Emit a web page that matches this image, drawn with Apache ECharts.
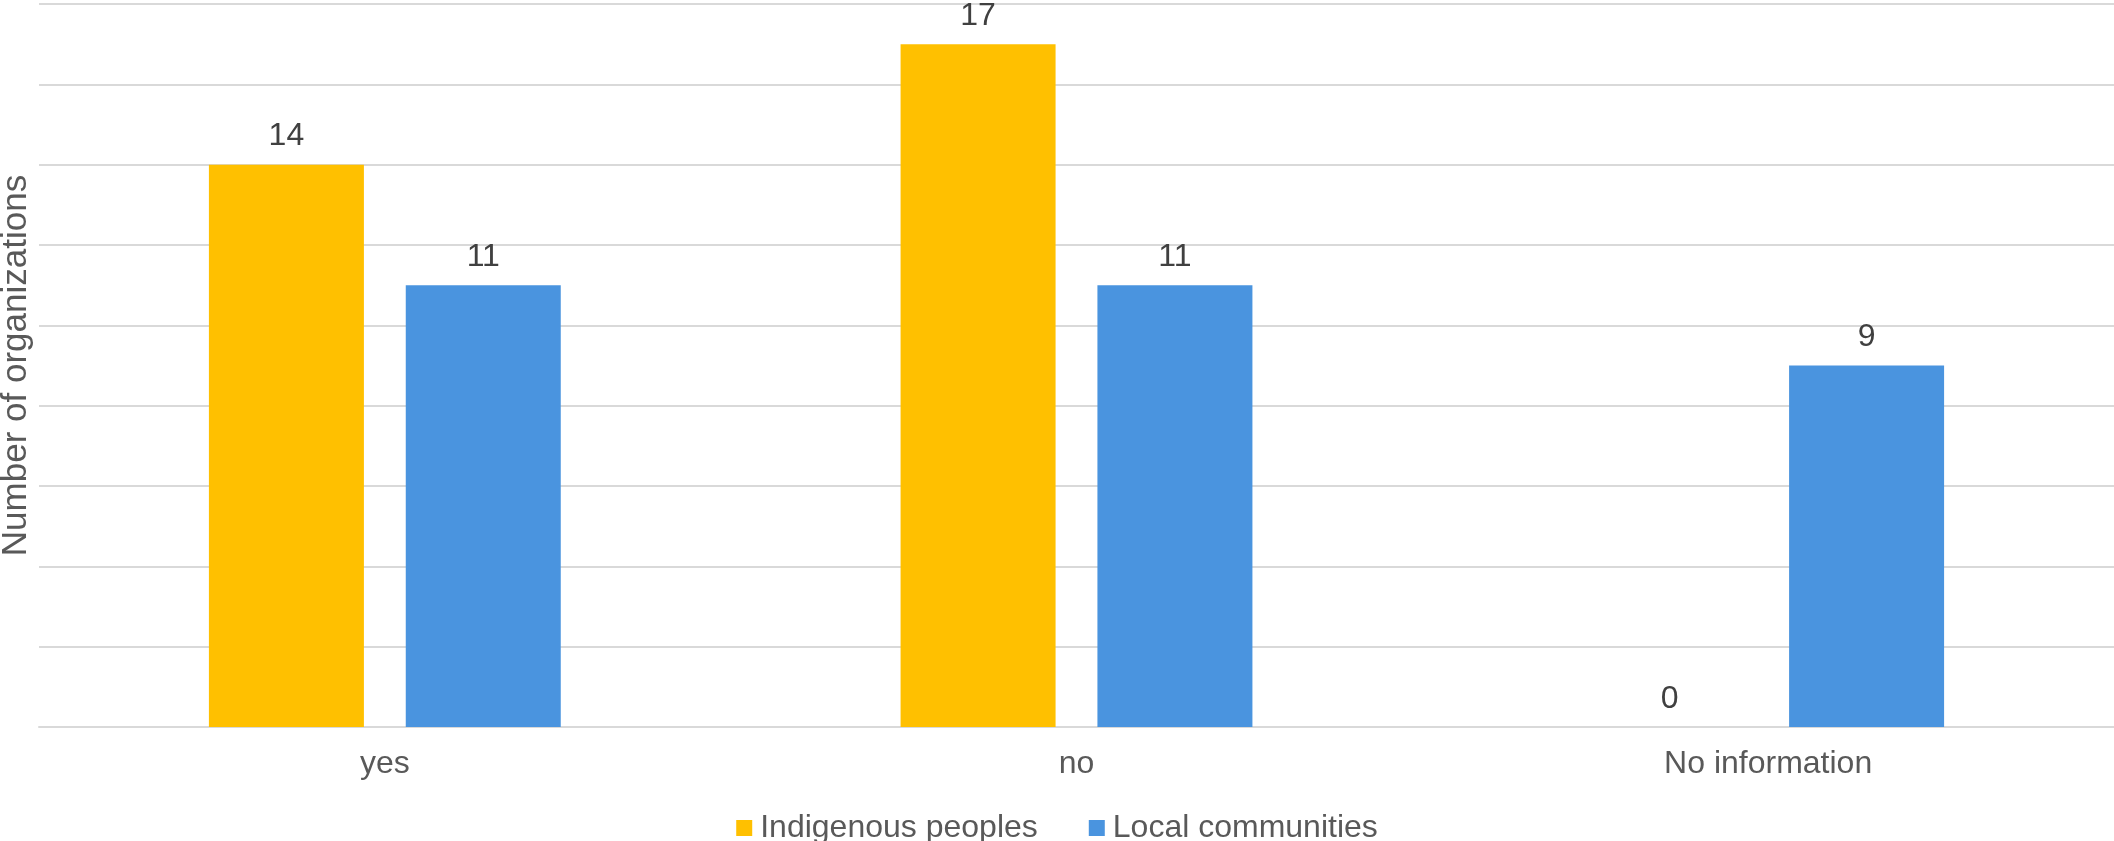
<!DOCTYPE html>
<html>
<head>
<meta charset="utf-8">
<script src="https://cdn.jsdelivr.net/npm/echarts@6/dist/echarts.min.js"></script>
<style>
html,body{margin:0;padding:0;background:#fff;}
#chart{width:2114px;height:841px;}
</style>
</head>
<body>
<div id="chart"></div>
<script>
const categories = ['yes', 'no', 'No information'];
const indigenousPeoples = [14, 17, 0];
const localCommunities = [11, 11, 9];
const seriesNames = ['Indigenous peoples', 'Local communities'];
const yAxisTitle = 'Number of organizations';

const FONT = '"Liberation Sans", Arial, sans-serif';
const chart = echarts.init(document.getElementById('chart'), null, {renderer: 'canvas'});
const labelCfg = {
  show: true, position: 'top', distance: 12,
  color: '#404040', fontSize: 32, fontFamily: FONT
};
chart.setOption({
  animation: false,
  backgroundColor: '#ffffff',
  grid: {left: 39, right: 0, top: 4, bottom: 114, containLabel: false, outerBoundsMode: 'none'},
  legend: {
    data: seriesNames,
    top: 807, left: 'center',
    icon: 'rect', itemWidth: 16, itemHeight: 16, itemGap: 51,
    textStyle: {color: '#595959', fontSize: 32, fontFamily: FONT, padding: [0, 0, 0, 3]}
  },
  xAxis: {
    type: 'category',
    data: categories,
    axisLine: {show: true, lineStyle: {color: '#D9D9D9', width: 2}},
    axisTick: {show: false},
    axisLabel: {color: '#595959', fontSize: 32, fontFamily: FONT, margin: 21}
  },
  yAxis: {
    type: 'value',
    min: 0, max: 18, interval: 2,
    name: yAxisTitle,
    nameLocation: 'middle',
    nameGap: 5,
    nameTextStyle: {color: '#595959', fontSize: 35, fontFamily: FONT},
    axisLine: {show: false},
    axisTick: {show: false},
    axisLabel: {show: false},
    splitLine: {show: true, lineStyle: {color: '#D9D9D9', width: 2}}
  },
  series: [
    {
      name: seriesNames[0], type: 'bar', data: indigenousPeoples,
      barWidth: 155, barGap: '27%',
      itemStyle: {color: '#FFC000'},
      label: labelCfg
    },
    {
      name: seriesNames[1], type: 'bar', data: localCommunities,
      barWidth: 155, barGap: '27%',
      itemStyle: {color: '#4A94DF'},
      label: labelCfg
    }
  ]
});
</script>
</body>
</html>
